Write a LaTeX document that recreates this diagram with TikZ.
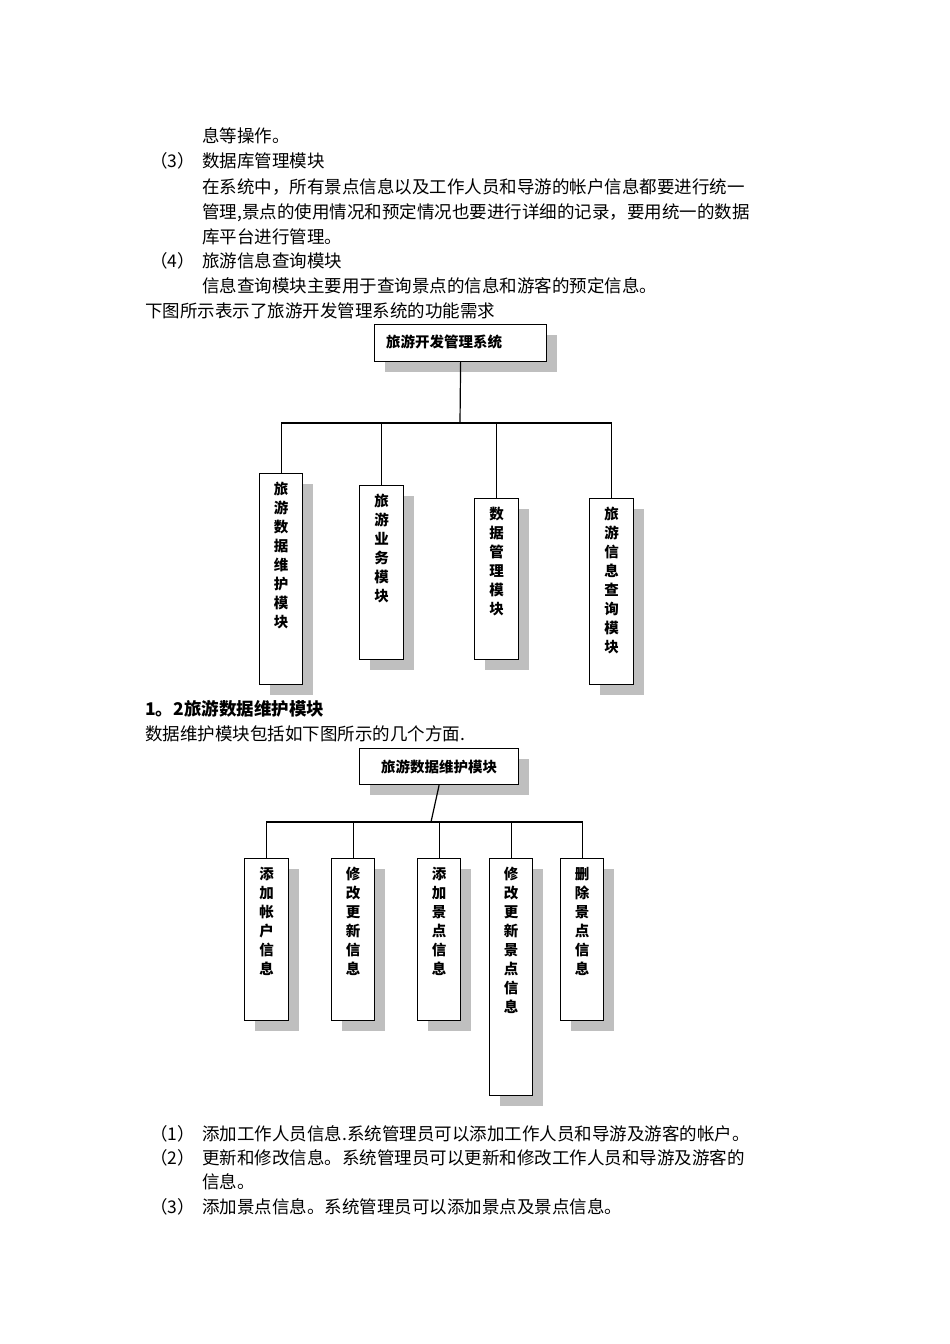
\documentclass[tikz,border=0pt]{standalone}
\usepackage{fontspec}
\setmainfont{Noto Sans CJK SC}
\usetikzlibrary{shadows}
\begin{document}
\begin{tikzpicture}[x=1pt,y=-1pt,
  txt/.style={anchor=base west,inner sep=0,font=\fontsize{17.5}{20}\selectfont},
  box/.style={draw,line width=1.2pt,fill=white,anchor=north west,inner sep=0,
    drop shadow={shadow xshift=10pt,shadow yshift=-10pt,fill=black!25,opacity=1}},
  lab/.style={anchor=north,align=center,inner sep=0,font=\fontsize{14.5}{19}\selectfont\bfseries},
  con/.style={line width=1.2pt}]
\useasboundingbox (0,0) rectangle (950,1344);
% text
\node[txt] (t1) at (202,142) {息等操作。};
\node[txt] (t2) at (150,167) {（3）};
\node[txt] (t3) at (202,167) {数据库管理模块};
\node[txt] (t4) at (202,193) {在系统中，所有景点信息以及工作人员和导游的帐户信息都要进行统一};
\node[txt] (t5) at (202,218) {管理,景点的使用情况和预定情况也要进行详细的记录，要用统一的数据};
\node[txt] (t6) at (202,243) {库平台进行管理。};
\node[txt] (t7) at (150,267) {（4）};
\node[txt] (t8) at (202,267) {旅游信息查询模块};
\node[txt] (t9) at (202,292) {信息查询模块主要用于查询景点的信息和游客的预定信息。};
\node[txt] (t10) at (145,317) {下图所示表示了旅游开发管理系统的功能需求};
\node[txt,font=\fontsize{17.5}{20}\selectfont\bfseries] (h1) at (145,715) {1。2旅游数据维护模块};
\node[txt] (t11) at (145,740) {数据维护模块包括如下图所示的几个方面.};
\node[txt] (b1) at (150,1140) {（1）};
\node[txt] (b1t) at (202,1140) {添加工作人员信息.系统管理员可以添加工作人员和导游及游客的帐户。};
\node[txt] (b2) at (150,1164) {（2）};
\node[txt] (b2t) at (202,1164) {更新和修改信息。系统管理员可以更新和修改工作人员和导游及游客的};
\node[txt] (b2u) at (202,1188) {信息。};
\node[txt] (b3) at (150,1213) {（3）};
\node[txt] (b3t) at (202,1213) {添加景点信息。系统管理员可以添加景点及景点信息。};
% diagram 1
\node[box,minimum width=172pt,minimum height=37pt] (top) at (374,324) {};
\node[lab,anchor=west] at (386,342) {旅游开发管理系统};
\node[box,minimum width=43pt,minimum height=211pt] (a1) at (259,473) {};
\node[box,minimum width=44pt,minimum height=174pt] (a2) at (359,485) {};
\node[box,minimum width=44pt,minimum height=161pt] (a3) at (474,498) {};
\node[box,minimum width=44pt,minimum height=186pt] (a4) at (589,498) {};
\node[lab] at ([yshift=-9pt]a1.north) {旅\\游\\数\\据\\维\\护\\模\\块};
\node[lab] at ([yshift=-9pt]a2.north) {旅\\游\\业\\务\\模\\块};
\node[lab] at ([yshift=-9pt]a3.north) {数\\据\\管\\理\\模\\块};
\node[lab] at ([yshift=-9pt]a4.north) {旅\\游\\信\\息\\查\\询\\模\\块};
\coordinate (bus1) at (460,423);
\draw[con] (top.south) -- (bus1);
\draw[con] (a1.north) |- (bus1) -- (a4.north |- bus1) -- (a4.north);
\draw[con] (a2.north) -- (a2.north |- bus1);
\draw[con] (a3.north) -- (a3.north |- bus1);
% diagram 2
\node[box,minimum width=159pt,minimum height=36pt] (top2) at (359,748) {};
\node[lab,anchor=center] at (top2.center) {旅游数据维护模块};
\node[box,minimum width=44pt,minimum height=162pt] (d1) at (244,858) {};
\node[box,minimum width=43pt,minimum height=162pt] (d2) at (331,858) {};
\node[box,minimum width=43pt,minimum height=162pt] (d3) at (417,858) {};
\node[box,minimum width=43pt,minimum height=237pt] (d4) at (489,858) {};
\node[box,minimum width=43pt,minimum height=162pt] (d5) at (560,858) {};
\node[lab] at ([yshift=-9pt]d1.north) {添\\加\\帐\\户\\信\\息};
\node[lab] at ([yshift=-9pt]d2.north) {修\\改\\更\\新\\信\\息};
\node[lab] at ([yshift=-9pt]d3.north) {添\\加\\景\\点\\信\\息};
\node[lab] at ([yshift=-9pt]d4.north) {修\\改\\更\\新\\景\\点\\信\\息};
\node[lab] at ([yshift=-9pt]d5.north) {删\\除\\景\\点\\信\\息};
\coordinate (bus2) at (431,822);
\draw[con] (top2.south) -- (bus2);
\draw[con] (d1.north) |- (bus2) -- (d5.north |- bus2) -- (d5.north);
\draw[con] (d2.north) -- (d2.north |- bus2);
\draw[con] (d3.north) -- (d3.north |- bus2);
\draw[con] (d4.north) -- (d4.north |- bus2);
\end{tikzpicture}
\end{document}
